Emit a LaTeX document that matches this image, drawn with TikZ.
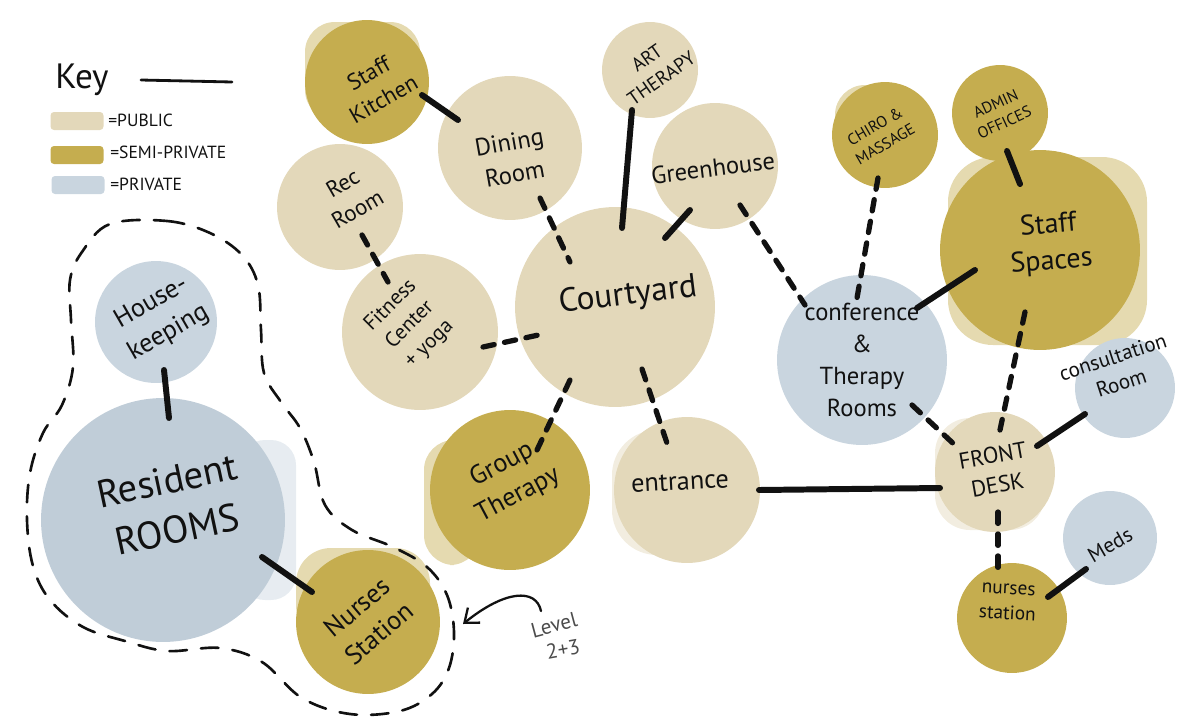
\documentclass[tikz,border=0pt]{standalone}
\usepackage{fontspec}
\setmainfont{PT Sans}
\usetikzlibrary{arrows.meta,calc}
\definecolor{cPub}{HTML}{E3D8BA}
\definecolor{cSemi}{HTML}{C5AD4F}
\definecolor{cPriv}{HTML}{C9D5DF}
\definecolor{cPrivD}{HTML}{C0CDD8}
\definecolor{cInk}{HTML}{111111}
\begin{document}
\begin{tikzpicture}[x=0.02cm,y=-0.02cm,
  bub/.style={circle, inner sep=0pt, draw=none, minimum size=#1*0.04cm},
  pubb/.style={bub=#1, fill=cPub},
  semib/.style={bub=#1, fill=cSemi},
  privb/.style={bub=#1, fill=cPriv},
  lbl/.style={font=\fontsize{#1}{1.3\dimexpr#1pt\relax}\selectfont, align=center, inner sep=0pt, text=cInk},
  solidc/.style={draw=cInk, line width=3.4pt, line cap=round},
  dashc/.style={draw=cInk, line width=3pt, line cap=round, dash pattern=on 6.5pt off 6pt},
  outline/.style={draw=cInk, line width=1.5pt, dash pattern=on 10pt off 8pt, line cap=round},
  halo/.style={opacity=0.45},
  swatch/.style={rectangle, rounded corners=2pt, minimum width=53*0.02cm, minimum height=18*0.02cm, inner sep=0pt},
  keytxt/.style={font=\fontsize{10}{11}\selectfont, anchor=west, inner sep=0pt, text=cInk}
]
\useasboundingbox (0,0) rectangle (1197,724);

% ---------- watercolour halos ----------
\fill[cPriv, halo, rounded corners=0.5cm] (240,440) rectangle (296,600);
\fill[cSemi, halo, rounded corners=0.9cm] (948,157) rectangle (1147,345);
\fill[cSemi, halo, rounded corners=0.6cm] (424,440) rectangle (480,565);
\fill[cSemi, halo, rounded corners=0.7cm] (296,548) rectangle (430,640);
\fill[cSemi, halo, rounded corners=0.6cm] (305,22) rectangle (420,120);
\fill[cSemi, halo, rounded corners=0.6cm] (835,85) rectangle (925,170);
\fill[cPub, halo, rounded corners=0.7cm] (935,418) rectangle (1045,530);
\fill[cPub, halo, rounded corners=0.9cm] (612,430) rectangle (700,555);

% ---------- bubbles ----------
\node[semib=62] (sk) at (367,82) {};
\node[pubb=72] (din) at (510,148) {};
\node[pubb=63] (rec) at (340,207) {};
\node[pubb=48] (art) at (650,70) {};
\node[pubb=63] (gh) at (715,166) {};
\node[pubb=100] (court) at (615,307) {};
\node[pubb=78] (fit) at (420,332) {};
\node[semib=80] (grp) at (510,490) {};
\node[pubb=73] (ent) at (687,490) {};
\node[semib=53] (chi) at (885,135) {};
\node[semib=48] (adm) at (1000,113) {};
\node[semib=100] (ss) at (1040,250) {};
\node[privb=85] (conf) at (862,360) {};
\node[privb=50] (cons) at (1125,388) {};
\node[pubb=60] (fd) at (995,472) {};
\node[privb=47] (meds) at (1110,538) {};
\node[semib=55] (nsr) at (1012,618) {};
\node[privb=61] (hk) at (156,322) {};
\node[bub=122, fill=cPrivD] (rr) at (163,520) {};
\node[semib=72] (nsl) at (368,622) {};

% ---------- connectors ----------
\draw[solidc] ($(sk)+(55,13)$) -- ($(din)+(-52,-28)$);
\draw[dashc] ($(din)+(30,50)$) -- ($(court)+(-45,-45)$);
\draw[solidc] ($(art)+(-18,40)$) -- ($(court)+(7,-79)$);
\draw[solidc] ($(gh)+(-25,44)$) -- ($(court)+(50,-69)$);
\draw[dashc] ($(gh)+(25,39)$) -- ($(conf)+(-57,-55)$);
\draw[dashc] ($(rec)+(22,28)$) -- ($(fit)+(-32,-50)$);
\draw[dashc] ($(fit)+(63,15)$) -- ($(court)+(-72,27)$);
\draw[dashc] ($(court)+(-45,73)$) -- ($(grp)+(27,-40)$);
\draw[dashc] ($(court)+(27,62)$) -- ($(ent)+(-17,-38)$);
\draw[solidc] ($(ent)+(72,0)$) -- ($(fd)+(-55,16)$);
\draw[dashc] ($(chi)+(-7,43)$) -- ($(conf)+(-5,-62)$);
\draw[solidc] ($(adm)+(7,38)$) -- ($(ss)+(-20,-66)$);
\draw[solidc] ($(ss)+(-65,20)$) -- ($(conf)+(55,-52)$);
\draw[dashc] ($(ss)+(-15,62)$) -- ($(fd)+(5,-42)$);
\draw[dashc] ($(conf)+(50,45)$) -- ($(fd)+(-38,-25)$);
\draw[solidc] ($(cons)+(-40,26)$) -- ($(fd)+(42,-26)$);
\draw[dashc] ($(fd)+(3,40)$) -- ($(nsr)+(-14,-41)$);
\draw[solidc] ($(nsr)+(36,-21)$) -- ($(meds)+(-24,31)$);
\draw[solidc] ($(hk)+(8,48)$) -- ($(rr)+(6,-102)$);
\draw[solidc] ($(rr)+(99,37)$) -- ($(nsl)+(-56,-30)$);

% ---------- labels ----------
\node[lbl=13, rotate=30] (tsk) at (376,86) {Staff\\Kitchen};
\node[lbl=14, rotate=10] (tdin) at (512,158) {Dining\\Room};
\node[lbl=13, rotate=30] (trec) at (350,196) {Rec\\Room};
\node[lbl=11, rotate=35] (tart) at (654,68) {ART\\THERAPY};
\node[lbl=14, rotate=7] (tgh) at (713,168) {Greenhouse};
\node[lbl=19, rotate=7] (tcourt) at (628,296) {Courtyard};
\node[lbl=12, rotate=45] (tfit) at (410,325) {Fitness\\Center\\+ yoga};
\node[lbl=15, rotate=28] (tgrp) at (510,480) {Group\\Therapy};
\node[lbl=15, rotate=3] (tent) at (680,482) {entrance};
\node[lbl=9, rotate=30] (tchi) at (880,135) {CHIRO \&\\MASSAGE};
\node[lbl=9, rotate=25] (tadm) at (1000,113) {ADMIN\\OFFICES};
\node[lbl=16, rotate=5] (tss) at (1050,244) {Staff\\Spaces};
\node[lbl=14] (tconf) at (862,360) {conference\\\&\\Therapy\\Rooms};
\node[lbl=12, rotate=18] (tcons) at (1117,370) {consultation\\Room};
\node[lbl=13, rotate=10] (tfd) at (995,470) {FRONT\\DESK};
\node[lbl=12, rotate=30] (tmeds) at (1110,545) {Meds};
\node[lbl=11, rotate=-3] (tnsr) at (1008,602) {nurses\\station};
\node[lbl=15, rotate=30] (thk) at (160,318) {House-\\keeping};
\node[lbl=22, rotate=12] (trr) at (172,505) {Resident\\ROOMS};
\node[lbl=15, rotate=40] (tnsl) at (368,620) {Nurses\\Station};

% ---------- level 2+3 outline ----------
\draw[outline] plot[smooth cycle, tension=0.6] coordinates {(110,224) (167,221) (210,233) (242,255) (258,285) (261,330) (264,373) (281,402) (300,428) (314,462) (325,505) (352,530) (393,547) (427,567) (447,595) (454,632) (449,668) (432,694) (400,711) (350,714) (302,698) (262,662) (220,648) (167,651) (125,641) (83,627) (50,600) (33,566) (27,520) (30,473) (43,433) (62,405) (73,367) (71,320) (70,280) (82,252)};

\node[lbl=12, rotate=15, text=black!70] (tlvl) at (554,625) {Level};
\node[lbl=12, rotate=10, text=black!70] (tlvl2) at (563,649) {2+3};
\coordinate (as) at (541,611);
\coordinate (ah) at (463,624);
\draw[cInk, line width=1.3pt, line cap=round, -{Straight Barb[length=7pt,width=11pt]}] (as) .. controls (536,588) and (505,590) .. (ah);

% ---------- key ----------
\node[font=\fontsize{20}{22}\selectfont, anchor=west, inner sep=0pt, text=cInk] (tkey) at (55,80) {Key};
\draw[cInk, line width=1.6pt, line cap=round] (141,80) -- (232,82);
\node[swatch, fill=cPub] (k1) at (77,121) {};
\node[swatch, fill=cSemi] (k2) at (77,155) {};
\node[swatch, fill=cPriv] (k3) at (78,185) {};
\node[keytxt] (tk1) at (108,120) {=PUBLIC};
\node[keytxt] (tk2) at (110,152) {=SEMI-PRIVATE};
\node[keytxt] (tk3) at (110,184) {=PRIVATE};
\end{tikzpicture}
\end{document}
